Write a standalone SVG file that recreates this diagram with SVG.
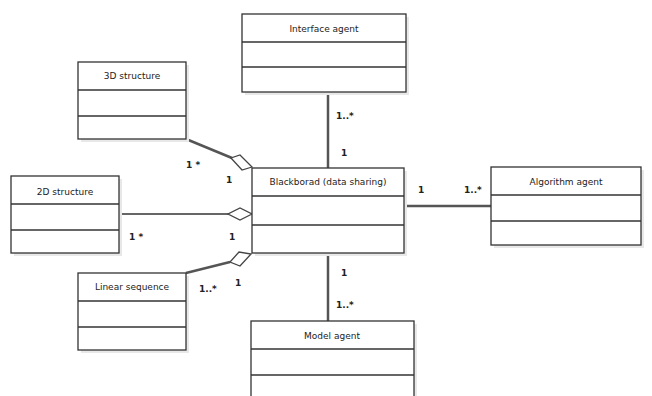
<svg xmlns="http://www.w3.org/2000/svg" width="652" height="396" viewBox="0 0 652 396">
<style>
.sh{fill:#e8e8e8}
.bx{fill:#fff;stroke:#333;stroke-width:1.3}
.dv{stroke:#333;stroke-width:1.3}
.t{font-family:"DejaVu Sans","Liberation Sans",sans-serif;font-size:9px;fill:#222;text-anchor:middle}
.c{stroke:#555;stroke-width:2.5;fill:none}
.d{fill:#fff;stroke:#444;stroke-width:1.3}
.m{font-family:"DejaVu Sans","Liberation Sans",sans-serif;font-size:9px;font-weight:bold;fill:#222}
</style>
<rect width="652" height="396" fill="#fff"/>
<g id="connectors">
<line class="c" x1="328" y1="92" x2="328" y2="168"/>
<line class="c" x1="328" y1="253" x2="328" y2="321"/>
<line class="c" x1="404" y1="206" x2="491" y2="206"/>
<line class="c" x1="186" y1="139" x2="232" y2="158"/>
<polygon class="d" points="252,167 242,170 231,158 240,155"/>
<line x1="119" y1="214" x2="230" y2="214" stroke="#333" stroke-width="1.5"/>
<polygon class="d" points="252,214 240,220 228,214 240,208"/>
<line class="c" x1="186" y1="273" x2="230" y2="262"/>
<polygon class="d" points="251,254 240,266 230,262 239,252"/>
<text class="m" x="336" y="119">1..*</text>
<text class="m" x="341" y="156">1</text>
<text class="m" x="341" y="276">1</text>
<text class="m" x="336" y="308">1..*</text>
<text class="m" x="418" y="193">1</text>
<text class="m" x="464" y="193">1..*</text>
<text class="m" x="186" y="168">1 *</text>
<text class="m" x="226" y="183">1</text>
<text class="m" x="129" y="240">1 *</text>
<text class="m" x="229" y="240">1</text>
<text class="m" x="199" y="292">1..*</text>
<text class="m" x="235" y="286">1</text>
</g>
<g id="interface">
<rect class="sh" x="245" y="17" width="164" height="78"/>
<rect class="bx" x="242" y="14" width="164" height="78"/>
<line class="dv" x1="242" y1="42" x2="406" y2="42"/>
<line class="dv" x1="242" y1="67" x2="406" y2="67"/>
<text class="t" x="324" y="32">Interface agent</text>
</g>
<g id="s3d">
<rect class="sh" x="81" y="65" width="108" height="77"/>
<rect class="bx" x="78" y="62" width="108" height="77"/>
<line class="dv" x1="78" y1="90" x2="186" y2="90"/>
<line class="dv" x1="78" y1="116" x2="186" y2="116"/>
<text class="t" x="132" y="79">3D structure</text>
</g>
<g id="s2d">
<rect class="sh" x="14" y="179" width="108" height="77"/>
<rect class="bx" x="11" y="176" width="108" height="77"/>
<line class="dv" x1="11" y1="204" x2="119" y2="204"/>
<line class="dv" x1="11" y1="230" x2="119" y2="230"/>
<text class="t" x="65" y="195">2D structure</text>
</g>
<g id="linear">
<rect class="sh" x="81" y="276" width="108" height="77"/>
<rect class="bx" x="78" y="273" width="108" height="77"/>
<line class="dv" x1="78" y1="301" x2="186" y2="301"/>
<line class="dv" x1="78" y1="327" x2="186" y2="327"/>
<text class="t" x="132" y="290">Linear sequence</text>
</g>
<g id="blackboard">
<rect class="sh" x="255" y="171" width="152" height="85"/>
<rect class="bx" x="252" y="168" width="152" height="85"/>
<line class="dv" x1="252" y1="196" x2="404" y2="196"/>
<line class="dv" x1="252" y1="225" x2="404" y2="225"/>
<text class="t" x="328" y="185">Blackborad (data sharing)</text>
</g>
<g id="algorithm">
<rect class="sh" x="494" y="170" width="150" height="78"/>
<rect class="bx" x="491" y="167" width="150" height="78"/>
<line class="dv" x1="491" y1="195" x2="641" y2="195"/>
<line class="dv" x1="491" y1="221" x2="641" y2="221"/>
<text class="t" x="566" y="185">Algorithm agent</text>
</g>
<g id="model">
<rect class="sh" x="254" y="324" width="163" height="80"/>
<rect class="bx" x="251" y="321" width="163" height="80"/>
<line class="dv" x1="251" y1="349" x2="414" y2="349"/>
<line class="dv" x1="251" y1="375" x2="414" y2="375"/>
<text class="t" x="332" y="339">Model agent</text>
</g>
</svg>
